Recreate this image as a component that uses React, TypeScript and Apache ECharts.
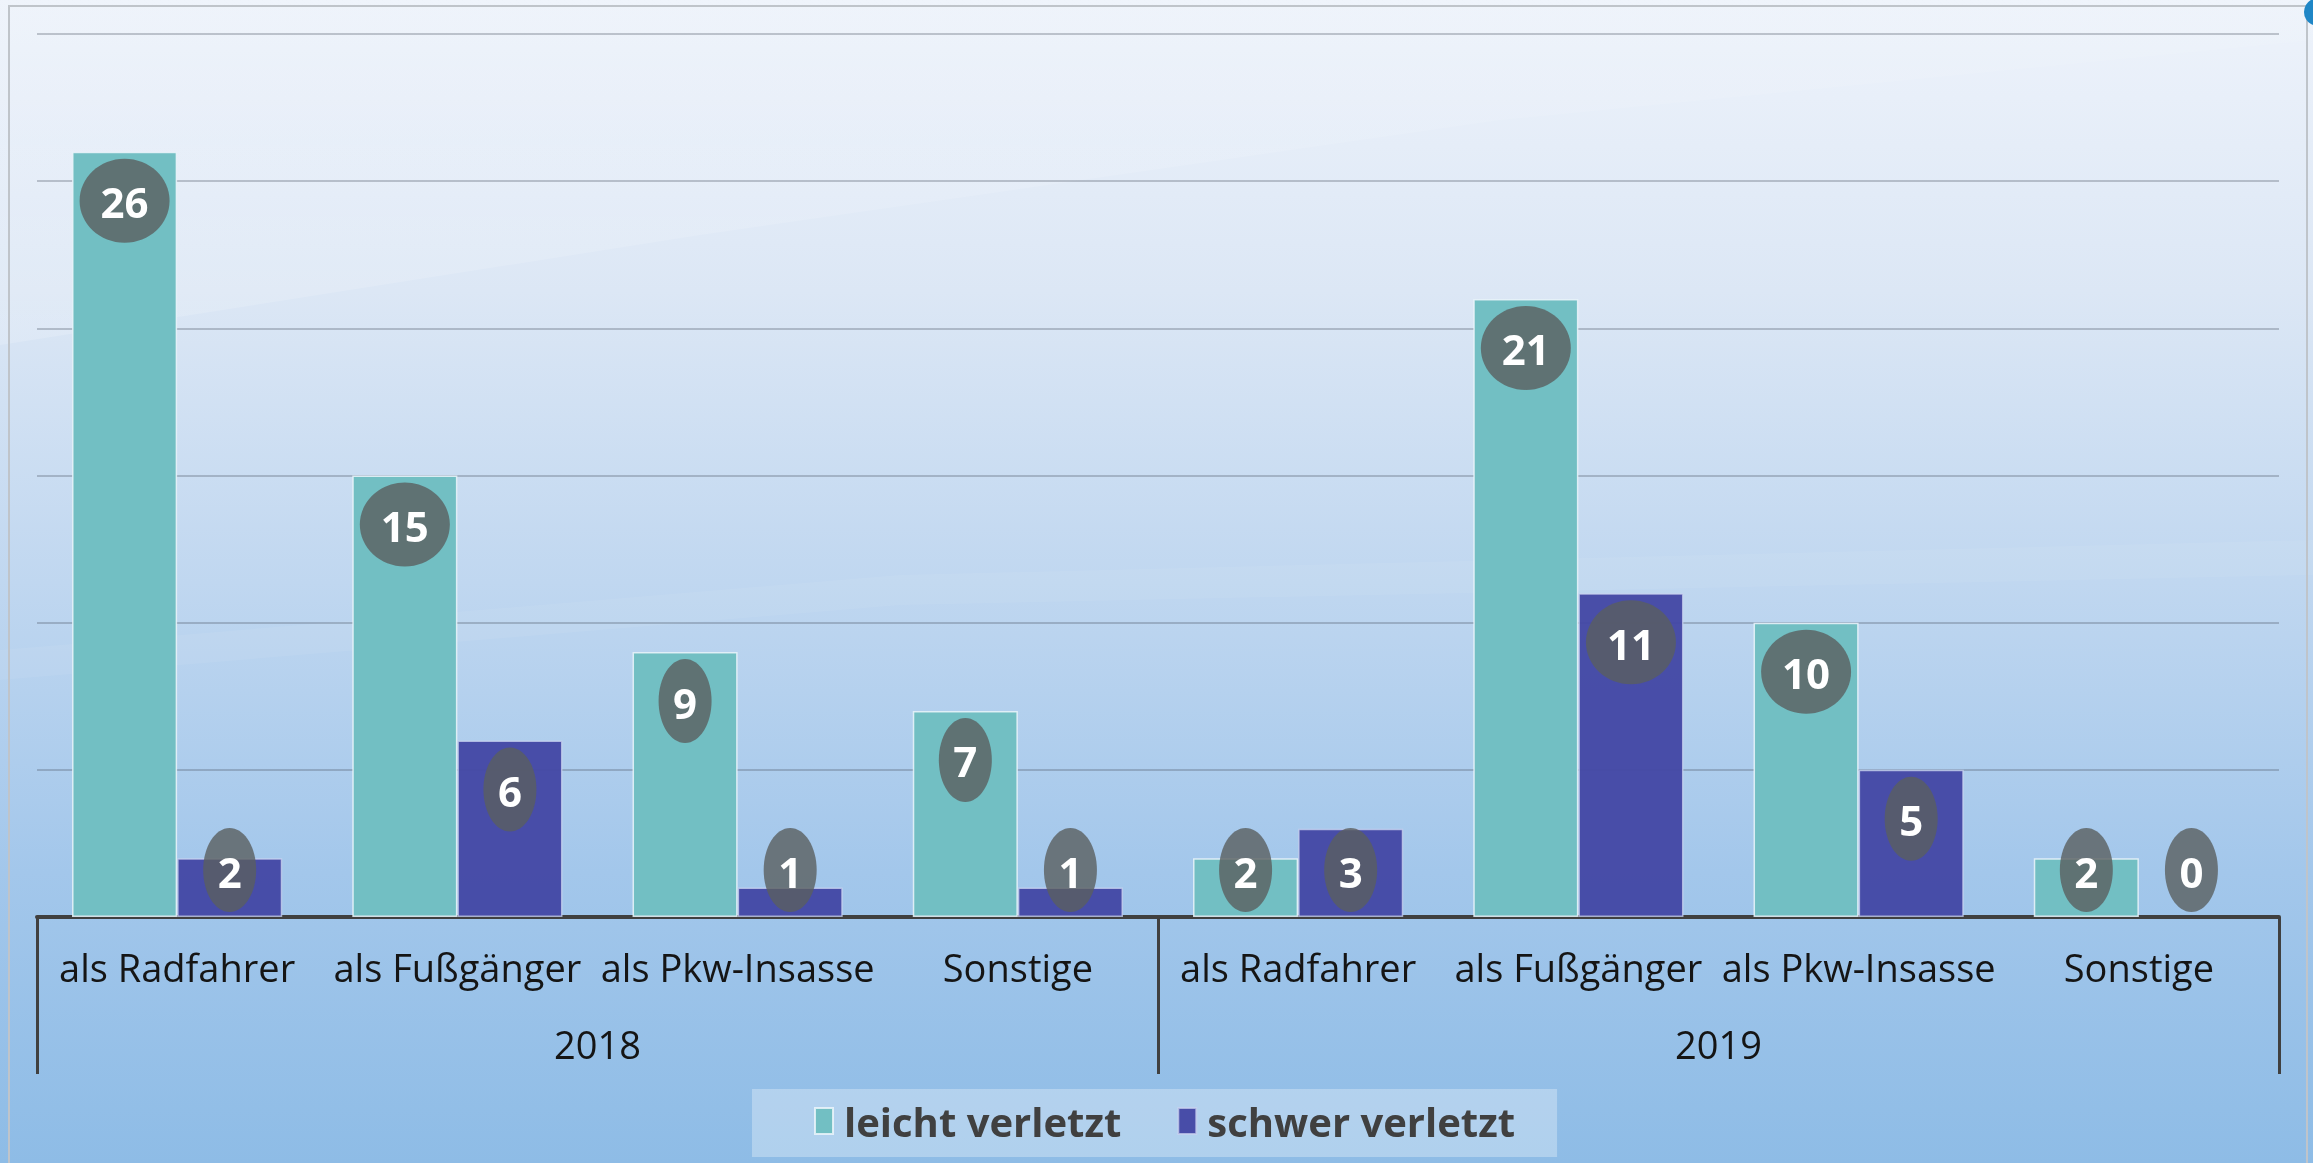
import React, { useEffect, useRef } from 'react';
import * as echarts from 'echarts';

// ---- data ----
const categories = [
  'als Radfahrer', 'als Fußgänger', 'als Pkw-Insasse', 'Sonstige',
  'als Radfahrer', 'als Fußgänger', 'als Pkw-Insasse', 'Sonstige',
];
const years = ['2018', '2019'];
const seriesNames = ['leicht verletzt', 'schwer verletzt'];
const leichtVerletzt = [26, 15, 9, 7, 2, 21, 10, 2];
const schwerVerletzt = [2, 6, 1, 1, 3, 11, 5, 0];
const yMin = 0;
const yMax = 30;
const yInterval = 5;

const TEAL = '#72BFC3';
const BLUE = '#4448A4';
const BAR_CATEGORY_GAP = 0.25;

// zero-height bars get no outline
const toBarData = (arr: number[]) =>
  arr.map((v) => (v === 0 ? { value: v, itemStyle: { borderWidth: 0, opacity: 0 } } : v));

export default function App() {
  const ref = useRef<HTMLDivElement>(null);

  useEffect(() => {
    if (!ref.current) return;
    const chart = echarts.init(ref.current, undefined, { renderer: 'svg' });

    const labelData: number[][] = [];
    [leichtVerletzt, schwerVerletzt].forEach((arr, s) => {
      arr.forEach((v, i) => labelData.push([i, v, s]));
    });

    const W = 2313;
    const H = 1163;

    const option: any = {
      animation: false,
      textStyle: { fontFamily: '"Open Sans", sans-serif' },
      graphic: [
        {
          type: 'rect',
          z: -100,
          silent: true,
          shape: { x: 0, y: 0, width: W, height: H },
          style: {
            fill: {
              type: 'linear', x: 0, y: 0, x2: 0, y2: 1,
              colorStops: [
                { offset: 0, color: '#EEF3FB' },
                { offset: 0.25, color: '#DCE7F5' },
                { offset: 0.5, color: '#C0D7F0' },
                { offset: 0.75, color: '#A3C7EB' },
                { offset: 1, color: '#8EBCE6' },
              ],
            },
          },
        },
        {
          type: 'polygon',
          z: -99,
          silent: true,
          shape: { points: [[0, 0], [W, 0], [W, 40], [1500, 120], [700, 235], [0, 345]] },
          style: {
            fill: {
              type: 'linear', x: 0, y: 0, x2: 0, y2: 1,
              colorStops: [
                { offset: 0, color: 'rgba(255,255,255,0.05)' },
                { offset: 1, color: 'rgba(255,255,255,0.16)' },
              ],
            },
          },
        },
        {
          type: 'polygon',
          z: -99,
          silent: true,
          shape: { points: [[0, 650], [900, 575], [W, 540], [W, 575], [900, 605], [0, 680]] },
          style: { fill: 'rgba(255,255,255,0.06)' },
        },
        {
          type: 'rect',
          z: -98,
          silent: true,
          shape: { x: 9, y: 6, width: 2298, height: 1200 },
          style: { fill: 'none', stroke: '#BFC4CA', lineWidth: 2 },
        },
        {
          type: 'circle',
          z: -97,
          silent: true,
          shape: { cx: 2318, cy: 12, r: 14 },
          style: { fill: '#1F86C6' },
        },
      ],
      legend: {
        data: seriesNames,
        left: 752,
        top: 1089,
        backgroundColor: 'rgba(255,255,255,0.3)',
        padding: [12, 42, 16, 62],
        itemWidth: 18,
        itemHeight: 26,
        itemGap: 56,
        icon: 'rect',
        textStyle: {
          color: '#404040',
          fontSize: 40,
          fontWeight: 'bold',
          fontFamily: '"Open Sans", sans-serif',
          lineHeight: 36,
          padding: [0, 0, 0, 6],
        },
      },
      grid: { left: 37, right: 34, top: 34, bottom: 246, containLabel: false },
      xAxis: [
        {
          type: 'category',
          data: categories,
          position: 'bottom',
          axisLine: { show: true, lineStyle: { color: '#404040', width: 4 } },
          axisTick: { show: false },
          axisLabel: {
            interval: 0,
            color: '#151515',
            fontSize: 38,
            fontFamily: '"Open Sans", sans-serif',
            margin: 31,
          },
          splitLine: { show: false },
        },
        {
          type: 'category',
          data: years,
          position: 'bottom',
          offset: 0,
          axisLine: { show: false },
          axisTick: {
            show: true,
            interval: 0,
            alignWithLabel: false,
            length: 157,
            lineStyle: { color: '#404040', width: 3 },
          },
          axisLabel: {
            interval: 0,
            color: '#151515',
            fontSize: 38,
            fontFamily: '"Open Sans", sans-serif',
            margin: 108,
          },
          splitLine: { show: false },
        },
      ],
      yAxis: {
        type: 'value',
        min: yMin,
        max: yMax,
        interval: yInterval,
        axisLine: { show: false },
        axisTick: { show: false },
        axisLabel: { show: false },
        splitLine: { show: true, lineStyle: { color: 'rgba(80,90,105,0.32)', width: 2 } },
      },
      series: [
        {
          name: seriesNames[0],
          type: 'bar',
          xAxisIndex: 0,
          data: toBarData(leichtVerletzt),
          barGap: '0%',
          barCategoryGap: `${BAR_CATEGORY_GAP * 100}%`,
          itemStyle: { color: TEAL, borderColor: 'rgba(235,245,250,0.85)', borderWidth: 1.5 },
          z: 2,
        },
        {
          name: seriesNames[1],
          type: 'bar',
          xAxisIndex: 0,
          data: toBarData(schwerVerletzt),
          barGap: '0%',
          barCategoryGap: `${BAR_CATEGORY_GAP * 100}%`,
          itemStyle: { color: BLUE, opacity: 0.96, borderColor: 'rgba(200,210,240,0.8)', borderWidth: 1.5 },
          z: 2,
        },
        {
          name: 'labels',
          type: 'custom',
          xAxisIndex: 0,
          data: labelData,
          encode: { x: 0, y: 1 },
          clip: false,
          z: 5,
          silent: true,
          renderItem: (_params: any, api: any) => {
            const idx = api.value(0);
            const v = api.value(1);
            const s = api.value(2);
            const base = api.coord([idx, 0]);
            const top = api.coord([idx, v]);
            const band = api.size([1, 0])[0];
            const barW = (band * (1 - BAR_CATEGORY_GAP)) / 2;
            const cx = base[0] + (s === 0 ? -barW / 2 : barW / 2);
            const cy = Math.min(top[1] + 49, base[1] - 47);
            const text = String(v);
            const rx = text.length > 1 ? 45 : 26.5;
            return {
              type: 'group',
              children: [
                {
                  type: 'ellipse',
                  shape: { cx, cy, rx, ry: 42 },
                  style: { fill: 'rgba(90,95,95,0.8)' },
                },
                {
                  type: 'text',
                  style: {
                    text,
                    x: cx,
                    y: cy + 1,
                    fill: '#ffffff',
                    fontSize: 42,
                    fontWeight: 'bold',
                    fontFamily: '"Open Sans", sans-serif',
                    align: 'center',
                    verticalAlign: 'middle',
                  },
                },
              ],
            };
          },
        },
      ],
    };

    chart.setOption(option);
    return () => chart.dispose();
  }, []);

  return (
    <div
      ref={ref}
      style={{ position: 'fixed', left: 0, top: 0, width: '2313px', height: '1163px' }}
    />
  );
}
